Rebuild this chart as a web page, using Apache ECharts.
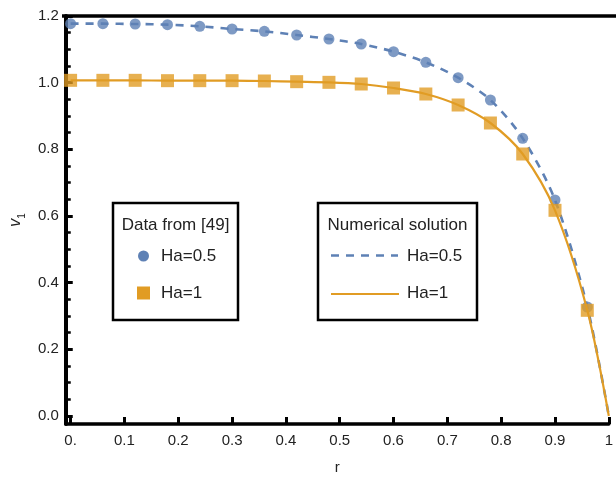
<!DOCTYPE html>
<html><head><meta charset="utf-8">
<script src="https://cdn.jsdelivr.net/npm/echarts@6/dist/echarts.min.js"></script>
<style>html,body{margin:0;padding:0;background:#fff}#c{width:616px;height:482px}</style>
</head><body><div id="c"></div>
<script>
// Data
const rPts = [0, 0.06, 0.12, 0.18, 0.24, 0.30, 0.36, 0.42, 0.48, 0.54, 0.60, 0.66, 0.72, 0.78, 0.84, 0.90, 0.96];
const dataHa05 = [1.177, 1.177, 1.176, 1.174, 1.169, 1.161, 1.154, 1.143, 1.131, 1.116, 1.093, 1.061, 1.015, 0.948, 0.833, 0.648, 0.327];
const dataHa1 = [1.007, 1.007, 1.007, 1.006, 1.006, 1.006, 1.005, 1.003, 1.001, 0.996, 0.984, 0.966, 0.933, 0.879, 0.786, 0.617, 0.317];
// Numerical solution curves
const lineR = [0, 0.06, 0.12, 0.18, 0.24, 0.30, 0.36, 0.42, 0.48, 0.54, 0.60, 0.66, 0.72, 0.78, 0.84, 0.90, 0.96, 1.0];
const lineHa05 = [1.177, 1.177, 1.176, 1.174, 1.169, 1.161, 1.154, 1.143, 1.131, 1.116, 1.093, 1.061, 1.015, 0.948, 0.833, 0.648, 0.327, 0];
const lineHa1 = [1.007, 1.007, 1.007, 1.006, 1.006, 1.006, 1.005, 1.003, 1.001, 0.996, 0.984, 0.966, 0.933, 0.879, 0.786, 0.617, 0.317, 0];
const xTicks = [0, 0.1, 0.2, 0.3, 0.4, 0.5, 0.6, 0.7, 0.8, 0.9, 1];
const yTicks = [0, 0.2, 0.4, 0.6, 0.8, 1.0, 1.2];
const yMinorTicks = [0.05, 0.1, 0.15, 0.25, 0.3, 0.35, 0.45, 0.5, 0.55, 0.65, 0.7, 0.75, 0.85, 0.9, 0.95, 1.05, 1.1, 1.15];

const BLUE = '#5E81B5', ORANGE = '#E19C24';
const FONT = '"Liberation Sans", Arial, sans-serif';
const chart = echarts.init(document.getElementById('c'), null, {renderer: 'canvas'});

const pair = (xs, ys) => xs.map((x, i) => [x, ys[i]]);
const X_MIN = -0.009, X_MAX = 1.0, Y_MIN = -0.024, Y_MAX = 1.2;

const option = {
  animation: false,
  backgroundColor: '#fff',
  grid: {left: 64, right: 2, top: 16, bottom: 58},
  xAxis: {
    type: 'value', min: X_MIN, max: X_MAX,
    axisLine: {show: true, onZero: false, lineStyle: {color: '#000', width: 3.5}},
    axisTick: {show: true, inside: true, length: 7, customValues: xTicks, lineStyle: {color: '#000', width: 3}},
    splitLine: {show: false},
    axisLabel: {show: true, customValues: xTicks, margin: 9, fontSize: 15, color: '#222', fontFamily: FONT,
      showMinLabel: true, showMaxLabel: true,
      formatter: v => v === 0 ? '0.' : (v === 1 ? '1' : v.toFixed(1))},
    name: 'r', nameLocation: 'middle', nameGap: 36,
    nameTextStyle: {fontSize: 15, color: '#222', fontFamily: FONT}
  },
  yAxis: [{
    type: 'value', min: Y_MIN, max: Y_MAX,
    axisLine: {show: true, onZero: false, lineStyle: {color: '#000', width: 4}},
    axisTick: {show: true, inside: true, length: 7, customValues: yTicks, lineStyle: {color: '#000', width: 3}},
    splitLine: {show: false},
    axisLabel: {show: true, customValues: yTicks, margin: 7, fontSize: 15, color: '#222', fontFamily: FONT,
      showMinLabel: true, showMaxLabel: true, formatter: v => v.toFixed(1)},
    name: '{v|v}{s|1}', nameLocation: 'middle', nameGap: 37, nameRotate: 90,
    nameTextStyle: {
      color: '#222', fontFamily: FONT,
      rich: {
        v: {fontSize: 16, fontStyle: 'italic', color: '#222', fontFamily: FONT, lineHeight: 18, verticalAlign: 'bottom'},
        s: {fontSize: 10, color: '#222', fontFamily: FONT, lineHeight: 18, verticalAlign: 'bottom', padding: [0, 0, -3, 0]}
      }
    }
  }, {
    type: 'value', min: Y_MIN, max: Y_MAX, position: 'left',
    axisLine: {show: false, onZero: false},
    axisTick: {show: true, inside: true, length: 5, customValues: yMinorTicks, lineStyle: {color: '#000', width: 2.5}},
    axisLabel: {show: false},
    splitLine: {show: false}
  }],
  series: [
    {type: 'line', name: 'Numerical Ha=0.5', data: pair(lineR, lineHa05), smooth: 0.3, showSymbol: false,
      lineStyle: {color: BLUE, width: 2.6, type: [8, 7]}, z: 2},
    {type: 'scatter', name: 'Data Ha=0.5', data: pair(rPts, dataHa05), symbol: 'circle', symbolSize: 11,
      itemStyle: {color: BLUE}, z: 3},
    {type: 'line', name: 'Numerical Ha=1', data: pair(lineR, lineHa1), smooth: 0.3, showSymbol: false,
      lineStyle: {color: ORANGE, width: 2.2}, z: 4},
    {type: 'scatter', name: 'Data Ha=1', data: pair(rPts, dataHa1), symbol: 'rect', symbolSize: 13,
      itemStyle: {color: ORANGE}, z: 5}
  ],
  graphic: [
    // top frame edge
    {type: 'line', shape: {x1: 62, y1: 16, x2: 620, y2: 16}, style: {stroke: '#000', lineWidth: 3.5}, z: 10, silent: true},
    // legend box 1
    {type: 'rect', shape: {x: 113, y: 203, width: 125, height: 117}, style: {fill: '#fff', stroke: '#000', lineWidth: 2.5}, z: 20},
    {type: 'text', x: 175.5, y: 225, style: {text: 'Data from [49]', fontSize: 17, fontFamily: FONT, fill: '#222', align: 'center', verticalAlign: 'middle'}, z: 21},
    {type: 'circle', shape: {cx: 143.5, cy: 256, r: 5.5}, style: {fill: BLUE}, z: 21},
    {type: 'text', x: 161, y: 256, style: {text: 'Ha=0.5', fontSize: 17, fontFamily: FONT, fill: '#222', align: 'left', verticalAlign: 'middle'}, z: 21},
    {type: 'rect', shape: {x: 137, y: 286.5, width: 13, height: 13}, style: {fill: ORANGE}, z: 21},
    {type: 'text', x: 161, y: 293, style: {text: 'Ha=1', fontSize: 17, fontFamily: FONT, fill: '#222', align: 'left', verticalAlign: 'middle'}, z: 21},
    // legend box 2
    {type: 'rect', shape: {x: 318, y: 203, width: 159, height: 117}, style: {fill: '#fff', stroke: '#000', lineWidth: 2.5}, z: 20},
    {type: 'text', x: 397.5, y: 225, style: {text: 'Numerical solution', fontSize: 17, fontFamily: FONT, fill: '#222', align: 'center', verticalAlign: 'middle'}, z: 21},
    {type: 'line', shape: {x1: 331, y1: 255.5, x2: 398, y2: 255.5}, style: {stroke: BLUE, lineWidth: 2.6, lineDash: [8, 7]}, z: 21},
    {type: 'text', x: 407, y: 256, style: {text: 'Ha=0.5', fontSize: 17, fontFamily: FONT, fill: '#222', align: 'left', verticalAlign: 'middle'}, z: 21},
    {type: 'line', shape: {x1: 331, y1: 294, x2: 399, y2: 294}, style: {stroke: ORANGE, lineWidth: 2.2}, z: 21},
    {type: 'text', x: 407, y: 293, style: {text: 'Ha=1', fontSize: 17, fontFamily: FONT, fill: '#222', align: 'left', verticalAlign: 'middle'}, z: 21}
  ]
};
chart.setOption(option);
</script>
</body></html>
